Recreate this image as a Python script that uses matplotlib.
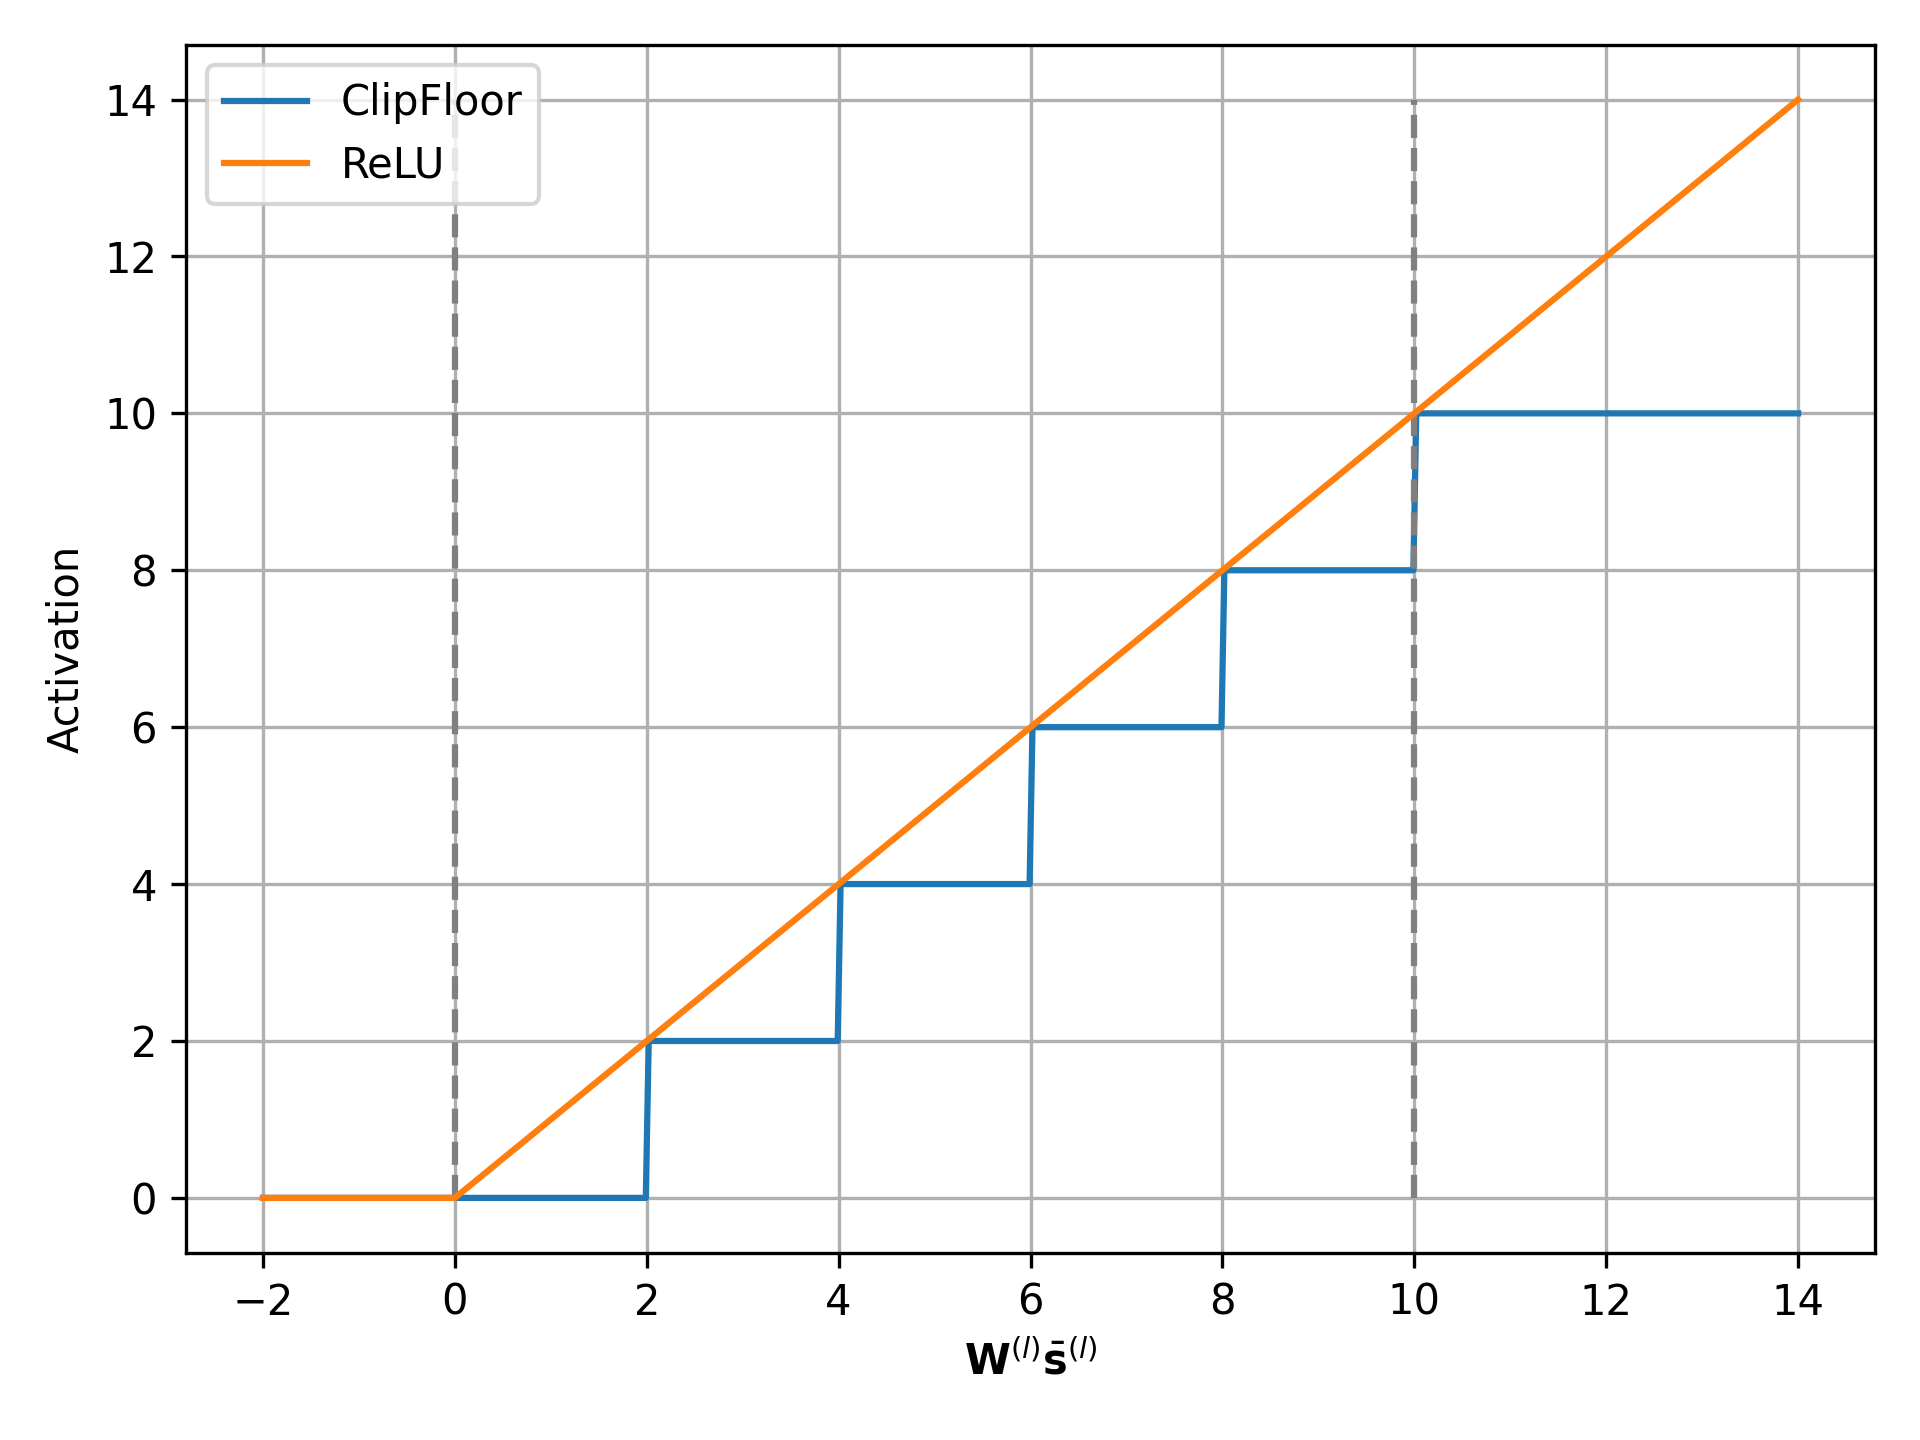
import numpy as np
import matplotlib.pyplot as plt

# ClipFloor (quantised, clipped) activation
clip_x = [-2, 0, 1.99, 2.02, 3.99, 4.02, 5.99, 6.02, 7.99, 8.02, 9.99, 10.02, 14]
clip_y = [0, 0, 0, 2, 2, 4, 4, 6, 6, 8, 8, 10, 10]

# ReLU
relu_x = [-2, 0, 14]
relu_y = [0, 0, 14]

# dashed bounds
bound_x = [0, 10]
bound_lo, bound_hi = 0, 14

fig = plt.figure(figsize=(6.4, 4.8), dpi=300)
ax = fig.add_subplot(111)
fig.subplots_adjust(left=0.097, right=0.9765, top=0.969, bottom=0.13)

ax.plot(clip_x, clip_y, label='ClipFloor')
ax.vlines(bound_x, bound_lo, bound_hi, colors='gray', linestyles='--')
ax.plot(relu_x, relu_y, label='ReLU')

ax.set_xticks(np.arange(-2, 15, 2))
ax.set_yticks(np.arange(0, 15, 2))
ax.grid(True)
ax.legend(loc='upper left')
ax.set_xlabel(r'$\mathbf{W}^{(l)}\bar{\mathbf{s}}^{(l)}$')
ax.set_ylabel('Activation')

plt.savefig('out.png')
